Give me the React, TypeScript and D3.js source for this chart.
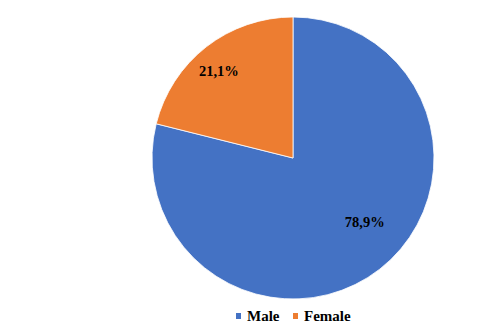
import React from "react";
import * as d3 from "d3";

const categories = ["Male", "Female"];
const values = [78.9, 21.1];
const labels = ["78,9%", "21,1%"];
const colors = ["#4472C4", "#ED7D31"];

export default function App() {
  const width = 482, height = 331;
  const cx = 293, cy = 158, r = 141;
  const pie = d3.pie<number>().sort(null).value((d) => d);
  const arcs = pie(values);
  const arc = d3.arc<d3.PieArcDatum<number>>().innerRadius(0).outerRadius(r);
  // label placement (angle in degrees clockwise from top, radius fraction)
  const labelPlace = [
    { angle: 131.6, rf: 0.68 },
    { angle: 319.5, rf: 0.81 },
  ];
  const font = "'Liberation Serif', 'Times New Roman', serif";
  const legendX = [236, 293];
  return (
    <svg width={width} height={height} style={{ position: "absolute", left: 0, top: 0 }}>
      <rect width={width} height={height} fill="#fff" />
      <g transform={`translate(${cx},${cy})`}>
        {arcs.map((a, i) => (
          <path key={i} d={arc(a) || ""} fill={colors[i]} stroke="#fff" strokeWidth={0.8} />
        ))}
        {arcs.map((a, i) => {
          const t = (labelPlace[i].angle * Math.PI) / 180;
          const d = labelPlace[i].rf * r;
          const x = Math.sin(t) * d;
          const y = -Math.cos(t) * d;
          return (
            <text key={i} x={x} y={y} textAnchor="middle" dominantBaseline="central"
              fontFamily={font} fontWeight="bold" fontSize={14.5} fill="#000">
              {labels[i]}
            </text>
          );
        })}
      </g>
      {categories.map((c, i) => (
        <g key={c} transform={`translate(${legendX[i]},316)`}>
          <rect x={0} y={-3} width={5} height={6} fill={colors[i]} />
          <text x={11} y={0} dominantBaseline="central" fontFamily={font} fontWeight="bold" fontSize={15} fill="#000">
            {c}
          </text>
        </g>
      ))}
    </svg>
  );
}
